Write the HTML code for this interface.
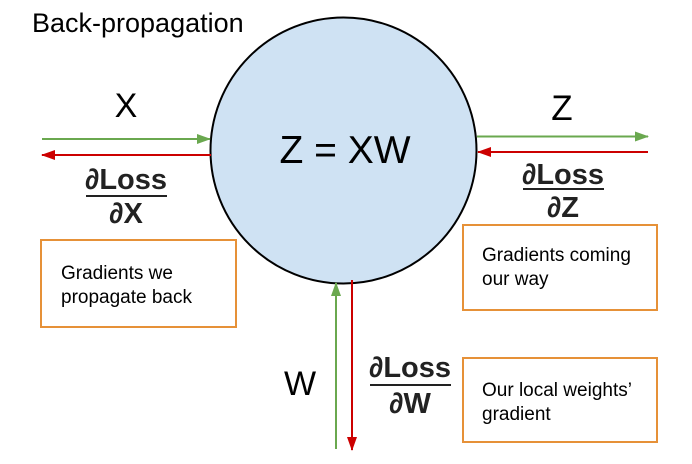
<!DOCTYPE html>
<html><head><style>body{margin:0;background:#fff}svg{display:block}</style></head>
<body>
<svg width="692" height="464" viewBox="0 0 692 464" xmlns="http://www.w3.org/2000/svg" font-family="Liberation Sans, Arial, sans-serif">
<defs>
<marker id="g" markerWidth="14" markerHeight="10" refX="13" refY="5" orient="auto" markerUnits="userSpaceOnUse"><path d="M0,0 L14,5 L0,10 z" fill="#6aa84f"/></marker>
<marker id="r" markerWidth="14" markerHeight="10" refX="13" refY="5" orient="auto" markerUnits="userSpaceOnUse"><path d="M0,0 L14,5 L0,10 z" fill="#cc0000"/></marker>
</defs>
<text x="32" y="32" font-size="27" fill="#000">Back-propagation</text>
<circle cx="343.5" cy="150.5" r="133" fill="#cfe2f3" stroke="#000" stroke-width="2"/>
<text x="345" y="163" font-size="39" text-anchor="middle">Z = XW</text>
<!-- left -->
<text x="126" y="117" font-size="34" text-anchor="middle">X</text>
<line x1="42" y1="139" x2="210" y2="139" stroke="#6aa84f" stroke-width="2" marker-end="url(#g)"/>
<line x1="211" y1="155" x2="42" y2="155" stroke="#cc0000" stroke-width="2" marker-end="url(#r)"/>
<text x="126" y="189" font-size="29" font-weight="bold" text-anchor="middle" fill="#222">∂Loss</text>
<line x1="86" y1="196" x2="167" y2="196" stroke="#222" stroke-width="2"/>
<text x="126" y="223" font-size="29" font-weight="bold" text-anchor="middle" fill="#222">∂X</text>
<rect x="41" y="240" width="195" height="87" fill="#fff" stroke="#e69138" stroke-width="2"/>
<text x="61" y="279" font-size="19">Gradients we</text>
<text x="61" y="303" font-size="19">propagate back</text>
<!-- right -->
<text x="562" y="120" font-size="35" text-anchor="middle">Z</text>
<line x1="477" y1="136.5" x2="648" y2="136.5" stroke="#6aa84f" stroke-width="2" marker-end="url(#g)"/>
<line x1="648" y1="152" x2="478" y2="152" stroke="#cc0000" stroke-width="2" marker-end="url(#r)"/>
<text x="563" y="184" font-size="29" font-weight="bold" text-anchor="middle" fill="#222">∂Loss</text>
<line x1="523" y1="189" x2="604" y2="189" stroke="#222" stroke-width="2"/>
<text x="563" y="217" font-size="29" font-weight="bold" text-anchor="middle" fill="#222">∂Z</text>
<rect x="463" y="225" width="194" height="85" fill="#fff" stroke="#e69138" stroke-width="2"/>
<text x="482" y="261" font-size="19">Gradients coming</text>
<text x="482" y="285" font-size="19">our way</text>
<!-- bottom -->
<line x1="336" y1="449" x2="336" y2="283" stroke="#6aa84f" stroke-width="2" marker-end="url(#g)"/>
<line x1="352" y1="280" x2="352" y2="450" stroke="#cc0000" stroke-width="2" marker-end="url(#r)"/>
<text x="300" y="395" font-size="34" text-anchor="middle">W</text>
<text x="410" y="377" font-size="29" font-weight="bold" text-anchor="middle" fill="#222">∂Loss</text>
<line x1="370" y1="385" x2="451" y2="385" stroke="#222" stroke-width="2"/>
<text x="410" y="413" font-size="29" font-weight="bold" text-anchor="middle" fill="#222">∂W</text>
<rect x="463" y="358" width="194" height="84" fill="#fff" stroke="#e69138" stroke-width="2"/>
<text x="482" y="396" font-size="19">Our local weights’</text>
<text x="482" y="420" font-size="19">gradient</text>
</svg>
</body></html>
